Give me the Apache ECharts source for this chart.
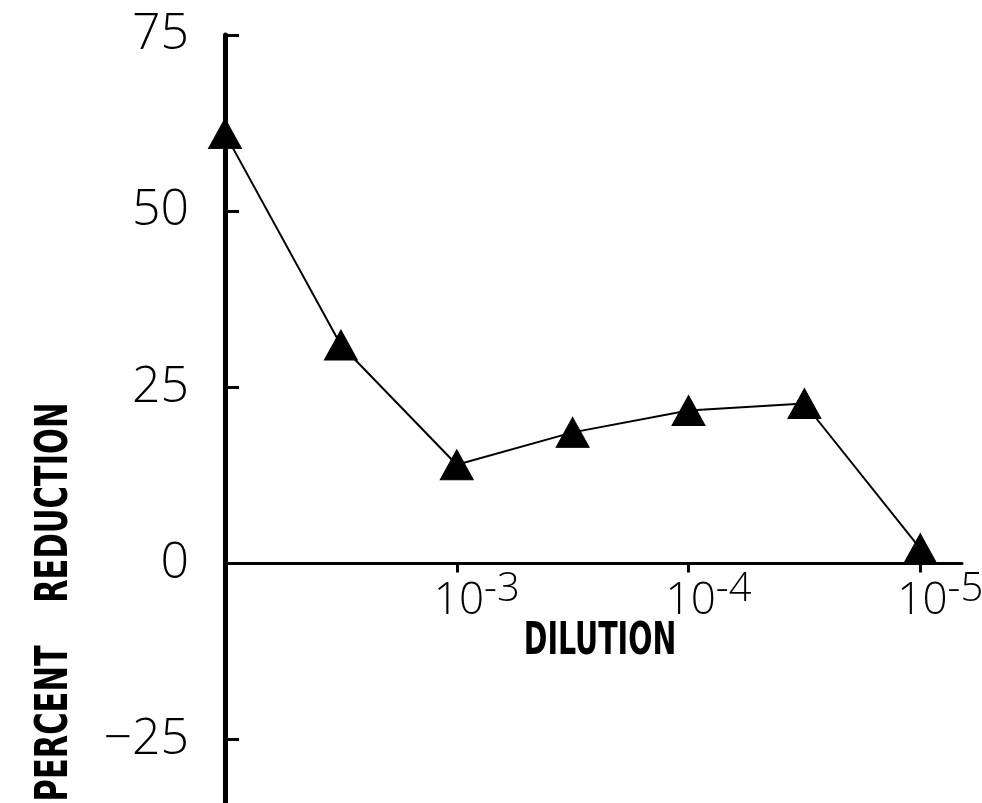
<!DOCTYPE html>
<html>
<head>
<meta charset="utf-8">
<script src="https://cdn.jsdelivr.net/npm/echarts@6/dist/echarts.min.js"></script>
<style>
  html, body { margin: 0; padding: 0; background: #fff; }
  #chart { width: 982px; height: 803px; }
</style>
</head>
<body>
<div id="chart"></div>
<script>
// Dilution exponent (10^-n) and measured percent reduction
const dilutionExp = [2, 2.5, 3, 3.5, 4, 4.5, 5];
const percentReduction = [61, 31, 14, 18.6, 21.7, 22.7, 2.1];

// Axis tick values
const yTicks = [-25, 0, 25, 50, 75];
const xTicks = [3, 4, 5];

// Axis extents
const yMin = -34, yMax = 75;
const xMin = 2, xMax = 5.18;

const thinFont = "'Open Sans', 'Liberation Sans', sans-serif";
const boldNarrow = "'DejaVu Sans Condensed', 'DejaVu Sans', sans-serif";

const W = 982, H = 803;
const gridTop = 35, gridBottom = 0;
const plotH = H - gridTop - gridBottom;
// lift the dilution axis from the bottom edge up to the zero line
const zeroOffset = -plotH * (0 - yMin) / (yMax - yMin);

const chart = echarts.init(document.getElementById('chart'), null, { renderer: 'canvas' });

chart.setOption({
  backgroundColor: '#ffffff',
  animation: false,
  grid: {
    left: 225, right: 20, top: gridTop, bottom: gridBottom,
    containLabel: false, outerBoundsMode: 'none'
  },
  xAxis: {
    type: 'value',
    min: xMin,
    max: xMax,
    offset: zeroOffset,
    axisLine: { onZero: false, lineStyle: { color: '#000', width: 3 } },
    axisTick: {
      show: true,
      customValues: xTicks,
      length: 9,
      lineStyle: { color: '#000', width: 3 }
    },
    splitLine: { show: false },
    axisLabel: {
      customValues: xTicks,
      margin: 6,
      padding: [0, 0, 0, 40],
      formatter: v => '{b|10}{s|-' + v + '}',
      rich: {
        b: { fontFamily: thinFont, fontWeight: 300, fontSize: 44, color: '#000', lineHeight: 48 },
        s: { fontFamily: thinFont, fontWeight: 300, fontSize: 40, color: '#000', padding: [0, 0, 24, 0] }
      }
    }
  },
  yAxis: {
    type: 'value',
    min: yMin,
    max: yMax,
    axisLine: { show: true, lineStyle: { color: '#000', width: 5 } },
    axisTick: {
      show: true,
      inside: true,
      customValues: yTicks,
      length: 14,
      lineStyle: { color: '#000', width: 3 }
    },
    splitLine: { show: false },
    axisLabel: {
      customValues: yTicks,
      margin: 36,
      fontFamily: thinFont,
      fontWeight: 300,
      fontSize: 50,
      color: '#000',
      formatter: v => (v < 0 ? '\u2212' + Math.abs(v) : String(v))
    }
  },
  graphic: [
    {
      type: 'text',
      x: 56,
      y: 602,
      rotation: Math.PI / 2,
      scaleX: 0.77,
      style: {
        text: 'PERCENT    REDUCTION',
        font: 'bold 44px ' + boldNarrow,
        fill: '#000',
        textAlign: 'center',
        textVerticalAlign: 'middle'
      }
    },
    {
      type: 'text',
      x: 600,
      y: 643,
      scaleX: 0.72,
      style: {
        text: 'DILUTION',
        font: 'bold 44px ' + boldNarrow,
        fill: '#000',
        textAlign: 'center',
        textVerticalAlign: 'middle'
      }
    }
  ],
  series: [
    {
      type: 'line',
      data: dilutionExp.map((x, i) => [x, percentReduction[i]]),
      symbol: 'triangle',
      symbolSize: [33, 30],
      lineStyle: { color: '#000', width: 2 },
      itemStyle: { color: '#000', borderColor: '#000' },
      clip: false,
      z: 3
    }
  ]
});
</script>
</body>
</html>
